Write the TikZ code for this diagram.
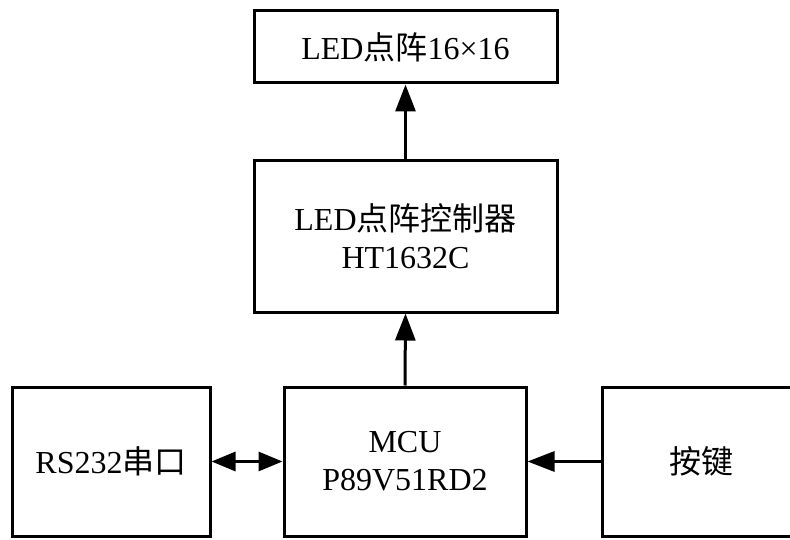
\documentclass[tikz,border=0pt]{standalone}
\usepackage{fontspec}
\setmainfont{Liberation Serif}
\newfontfamily\cjk{Noto Sans CJK SC}
\usetikzlibrary{arrows.meta}
\begin{document}
\begin{tikzpicture}[x=1pt,y=1pt,
  blk/.style={draw=black, line width=3pt, rectangle, inner sep=0pt, align=center,
    font=\fontsize{32pt}{38pt}\selectfont},
  conn/.style={line width=3pt, -{Triangle[length=27pt,width=20pt]}},
  biconn/.style={line width=3pt, {Triangle[length=24pt,width=19pt]}-{Triangle[length=24pt,width=19pt]}}]
\useasboundingbox (0,0) rectangle (790,539);
% boxes (y measured from bottom)
\node[blk, minimum width=303pt, minimum height=72pt] (led) at (405.5,492) {LED{\cjk 点阵}16×16};
\node[blk, minimum width=303pt, minimum height=151pt] (ctrl) at (405.5,302.5) {LED{\cjk 点阵控制器}\\HT1632C};
\node[blk, minimum width=198pt, minimum height=149pt] (rs) at (111,77.5) {RS232{\cjk 串口}};
\node[blk, minimum width=242pt, minimum height=149pt] (mcu) at (405,77.5) {MCU\\P89V51RD2};
\node[blk, minimum width=198pt, minimum height=149pt] (key) at (701,77.5) {{\cjk 按键}};
% connectors
\draw[conn] (ctrl.north) -- (led.south);
\draw[conn] (mcu.north) -- (ctrl.south);
\draw[biconn] (rs.east) -- (mcu.west);
\draw[conn] (key.west) -- (mcu.east);
\end{tikzpicture}
\end{document}
